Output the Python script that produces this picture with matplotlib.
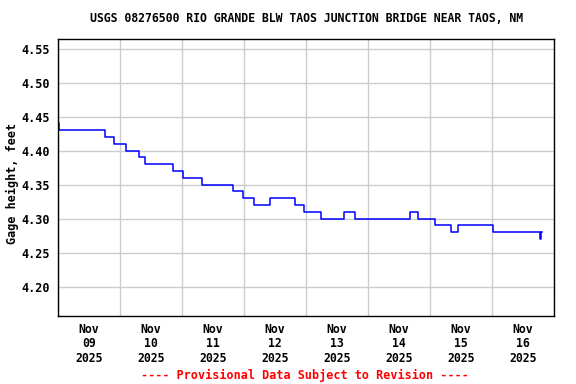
import matplotlib
matplotlib.use("Agg")
import matplotlib.pyplot as plt
import pandas as pd

# gage height readings: hour (after Nov 09 00:00) where the level changes, and new level
change_hours = [0, 0.25, 18.1, 21.8, 26.5, 31.2, 33.7, 44.4, 48.5, 55.6, 67.6, 71.5,
                75.9, 82.2, 91.6, 95.1, 101.7, 110.6, 114.9, 136.3, 139.5, 145.8,
                152.3, 154.9, 168.3, 186.6, 187.0, 187.5]
levels = [4.44, 4.43, 4.42, 4.41, 4.40, 4.39, 4.38, 4.37, 4.36, 4.35, 4.34, 4.33,
          4.32, 4.33, 4.32, 4.31, 4.30, 4.31, 4.30, 4.31, 4.30, 4.29,
          4.28, 4.29, 4.28, 4.27, 4.28, 4.28]

y_ticks = [4.20, 4.25, 4.30, 4.35, 4.40, 4.45, 4.50, 4.55]
day_labels = ["Nov\n09\n2025", "Nov\n10\n2025", "Nov\n11\n2025", "Nov\n12\n2025",
              "Nov\n13\n2025", "Nov\n14\n2025", "Nov\n15\n2025", "Nov\n16\n2025"]

start = pd.Timestamp("2025-11-09 00:00")
times = [start + pd.Timedelta(hours=h) for h in change_hours]
days = pd.date_range(start, periods=9, freq="D")
noons = [d + pd.Timedelta(hours=12) for d in days[:-1]]

mono = "DejaVu Sans Mono"

fig = plt.figure(figsize=(5.76, 3.84), dpi=100)
ax = fig.add_axes([58/576, 1-316/384, (554-58)/576, (316-39)/384])

ax.plot(times, levels, drawstyle="steps-post", color="#0000ff", linewidth=1.1)

ax.set_xlim(days[0], days[-1])
ax.set_ylim(4.157, 4.564)

ax.set_yticks(y_ticks)
ax.set_yticklabels(["%.2f" % v for v in y_ticks], family=mono, fontweight="bold", fontsize=8.5)

# gridlines at midnight, date labels at noon
ax.set_xticks(days)
ax.set_xticklabels([])
ax.set_xticks(noons, minor=True)
ax.set_xticklabels(day_labels, minor=True, family=mono, fontweight="bold", fontsize=8.3,
                   linespacing=1.15)
ax.tick_params(which="both", length=0)
ax.tick_params(axis="x", which="minor", pad=5)
ax.tick_params(axis="y", pad=6)

ax.grid(True, which="major", color="#cccccc", linewidth=1)
ax.set_axisbelow(True)
for s in ax.spines.values():
    s.set_color("black")
    s.set_linewidth(1)

fig.text(307/576, 1-19/384, "USGS 08276500 RIO GRANDE BLW TAOS JUNCTION BRIDGE NEAR TAOS, NM",
         ha="center", va="center", family=mono, fontweight="bold", fontsize=8.3)
fig.text(12/576, 1-183/384, "Gage height, feet", rotation=90, ha="center", va="center",
         family=mono, fontweight="bold", fontsize=8.5)
fig.text(305/576, 1-375/384, "---- Provisional Data Subject to Revision ----",
         ha="center", va="center", family=mono, fontweight="bold", fontsize=8.5, color="red")

fig.savefig("out.png", dpi=100)
